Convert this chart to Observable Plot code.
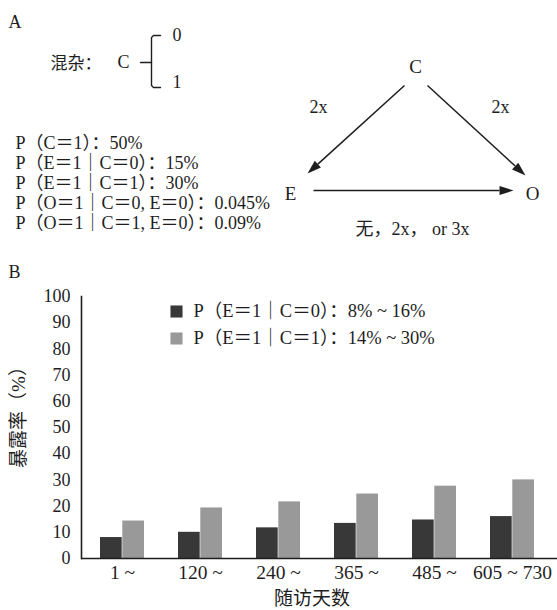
<!DOCTYPE html>
<html><head><meta charset="utf-8">
<script src="https://cdn.jsdelivr.net/npm/d3@7"></script>
<script src="https://cdn.jsdelivr.net/npm/@observablehq/plot@0.6"></script>
<style>
body{margin:0;background:#fff;}
#root{width:557px;height:610px;position:relative;background:#fff;}
#root svg{display:block;}
</style></head><body><div id="root"></div>
<script>
// ---- data ----
const categories = ["1 ~", "120 ~", "240 ~", "365 ~", "485 ~", "605 ~ 730"];
const exposureC0 = [8, 10, 11.7, 13.4, 14.7, 16];
const exposureC1 = [14.3, 19.3, 21.6, 24.6, 27.6, 30];
const seriesNames = ["P（E＝1｜C＝0）：8% ~ 16%", "P（E＝1｜C＝1）：14% ~ 30%"];
const yTicks = [0, 10, 20, 30, 40, 50, 60, 70, 80, 90, 100];
const yLabel = "暴露率（%）";
const xLabel = "随访天数";
const probLines = ["P（C＝1）：50%", "P（E＝1｜C＝0）：15%", "P（E＝1｜C＝1）：30%", "P（O＝1｜C＝0, E＝0）：0.045%", "P（O＝1｜C＝1, E＝0）：0.09%"];
const nodeNames = ["C", "E", "O"];
const edgeLabels = ["2x", "2x", "无，2x， or 3x"];
const confLevels = ["0", "1"];

// ---- layout (diagram geometry) ----
const FONT = '"Liberation Serif","Noto Sans CJK SC",serif';
const INK = "#1e1e1e";
const nodePos = [[415, 66], [290, 193], [532, 193]];
const edgeGeom = [
  {x1: 404, y1: 85, x2: 307, y2: 173, lx: 318, ly: 107},
  {x1: 427, y1: 85, x2: 525, y2: 175, lx: 500, ly: 107},
  {x1: 313, y1: 190, x2: 513, y2: 190, lx: 412, ly: 229}
];
const HEAD = 14;
const arrowHead = {draw(ctx) { ctx.moveTo(0, -HEAD); ctx.lineTo(4.6, 0); ctx.lineTo(-4.6, 0); ctx.closePath(); }};
const edges = edgeGeom.map(g => {
  const dx = g.x2 - g.x1, dy = g.y2 - g.y1, L = Math.hypot(dx, dy);
  const ux = dx / L, uy = dy / L;
  return {...g, bx: g.x2 - ux * HEAD, by: g.y2 - uy * HEAD, angle: Math.atan2(ux, -uy) * 180 / Math.PI};
});
const probIdx = probLines.map((_, i) => i);

const topPanel = Plot.plot({
  width: 557, height: 282, margin: 0,
  x: {domain: [0, 557], range: [0, 557], axis: null},
  y: {domain: [0, 282], range: [0, 282], axis: null},
  style: {fontFamily: FONT, background: "#fff", color: INK, overflow: "visible"},
  marks: [
    Plot.text(["A"], {x: 8, y: 22, textAnchor: "start", fontSize: 18, fill: INK}),
    Plot.text(["B"], {x: 8, y: 272, textAnchor: "start", fontSize: 18, fill: INK}),
    Plot.text(["混杂："], {x: 50, y: 63, textAnchor: "start", fontSize: 17, fill: INK}),
    Plot.text(["C"], {x: 117, y: 62, textAnchor: "start", fontSize: 18, fill: INK}),
    Plot.line([[160, 35], [153, 35], [151, 37], [151, 85], [153, 87], [160, 87]], {stroke: INK, strokeWidth: 1.4, curve: "linear"}),
    Plot.line([[140, 62], [151, 62]], {stroke: INK, strokeWidth: 1.4}),
    Plot.text(confLevels, {x: 172, y: (d, i) => [35, 82][i], textAnchor: "start", fontSize: 18, fill: INK}),
    Plot.text(probIdx, {x: 15, y: i => 143 + i * 20, text: i => probLines[i], textAnchor: "start", fontSize: 18, fill: INK}),
    Plot.text(nodeNames, {x: (d, i) => nodePos[i][0], y: (d, i) => nodePos[i][1], fontSize: 19, fill: INK}),
    Plot.link(edges, {x1: "x1", y1: "y1", x2: "bx", y2: "by", stroke: INK, strokeWidth: 1.5}),
    Plot.dot(edges, {x: "bx", y: "by", rotate: "angle", symbol: arrowHead, fill: INK, stroke: "none"}),
    Plot.text(edges, {x: "lx", y: "ly", text: (d, i) => edgeLabels[i], fontSize: 18, fill: INK})
  ]
});

const barChart = Plot.plot({
  width: 557, height: 328,
  marginTop: 14, marginBottom: 52, marginLeft: 81, marginRight: 3,
  x: {domain: categories, paddingInner: 0.435, paddingOuter: 0.2175, axis: null},
  y: {domain: [0, 100], axis: null},
  style: {fontFamily: FONT, background: "#fff", color: INK, overflow: "visible"},
  marks: [
    Plot.barY(categories, {x: d => d, y: (d, i) => exposureC0[i], fill: "#383838", insetRight: 22.3}),
    Plot.barY(categories, {x: d => d, y: (d, i) => exposureC1[i], fill: "#999999", insetLeft: 22.3}),
    Plot.axisY({ticks: yTicks, tickSize: 0, tickPadding: 11, fontSize: 18, label: null, fill: INK}),
    Plot.axisX({tickSize: 0, tickPadding: 7, fontSize: 19.5, label: null, fill: INK}),
    Plot.ruleY([0], {stroke: INK, strokeWidth: 1.6, insetRight: -3}),
    Plot.frame({anchor: "left", stroke: INK, strokeWidth: 1.6}),
    Plot.dot([0], {frameAnchor: "top-left", dx: 95, dy: 15, symbol: "square", r: 6.8, fill: "#383838", stroke: "none"}),
    Plot.dot([0], {frameAnchor: "top-left", dx: 95, dy: 42, symbol: "square", r: 6.8, fill: "#999999", stroke: "none"}),
    Plot.text([seriesNames[0]], {frameAnchor: "top-left", dx: 112, dy: 15, textAnchor: "start", lineAnchor: "middle", fontSize: 18.5, fill: INK}),
    Plot.text([seriesNames[1]], {frameAnchor: "top-left", dx: 112, dy: 42, textAnchor: "start", lineAnchor: "middle", fontSize: 18.5, fill: INK}),
    Plot.text([yLabel], {frameAnchor: "left", rotate: -90, dx: -63, dy: -15, textAnchor: "middle", lineAnchor: "middle", fontSize: 19, fill: INK}),
    Plot.text([xLabel], {frameAnchor: "bottom", dx: -6, dy: 40, textAnchor: "middle", lineAnchor: "middle", fontSize: 19, fill: INK})
  ]
});

const root = document.getElementById("root");
root.appendChild(topPanel);
root.appendChild(barChart);
</script>
</body></html>
